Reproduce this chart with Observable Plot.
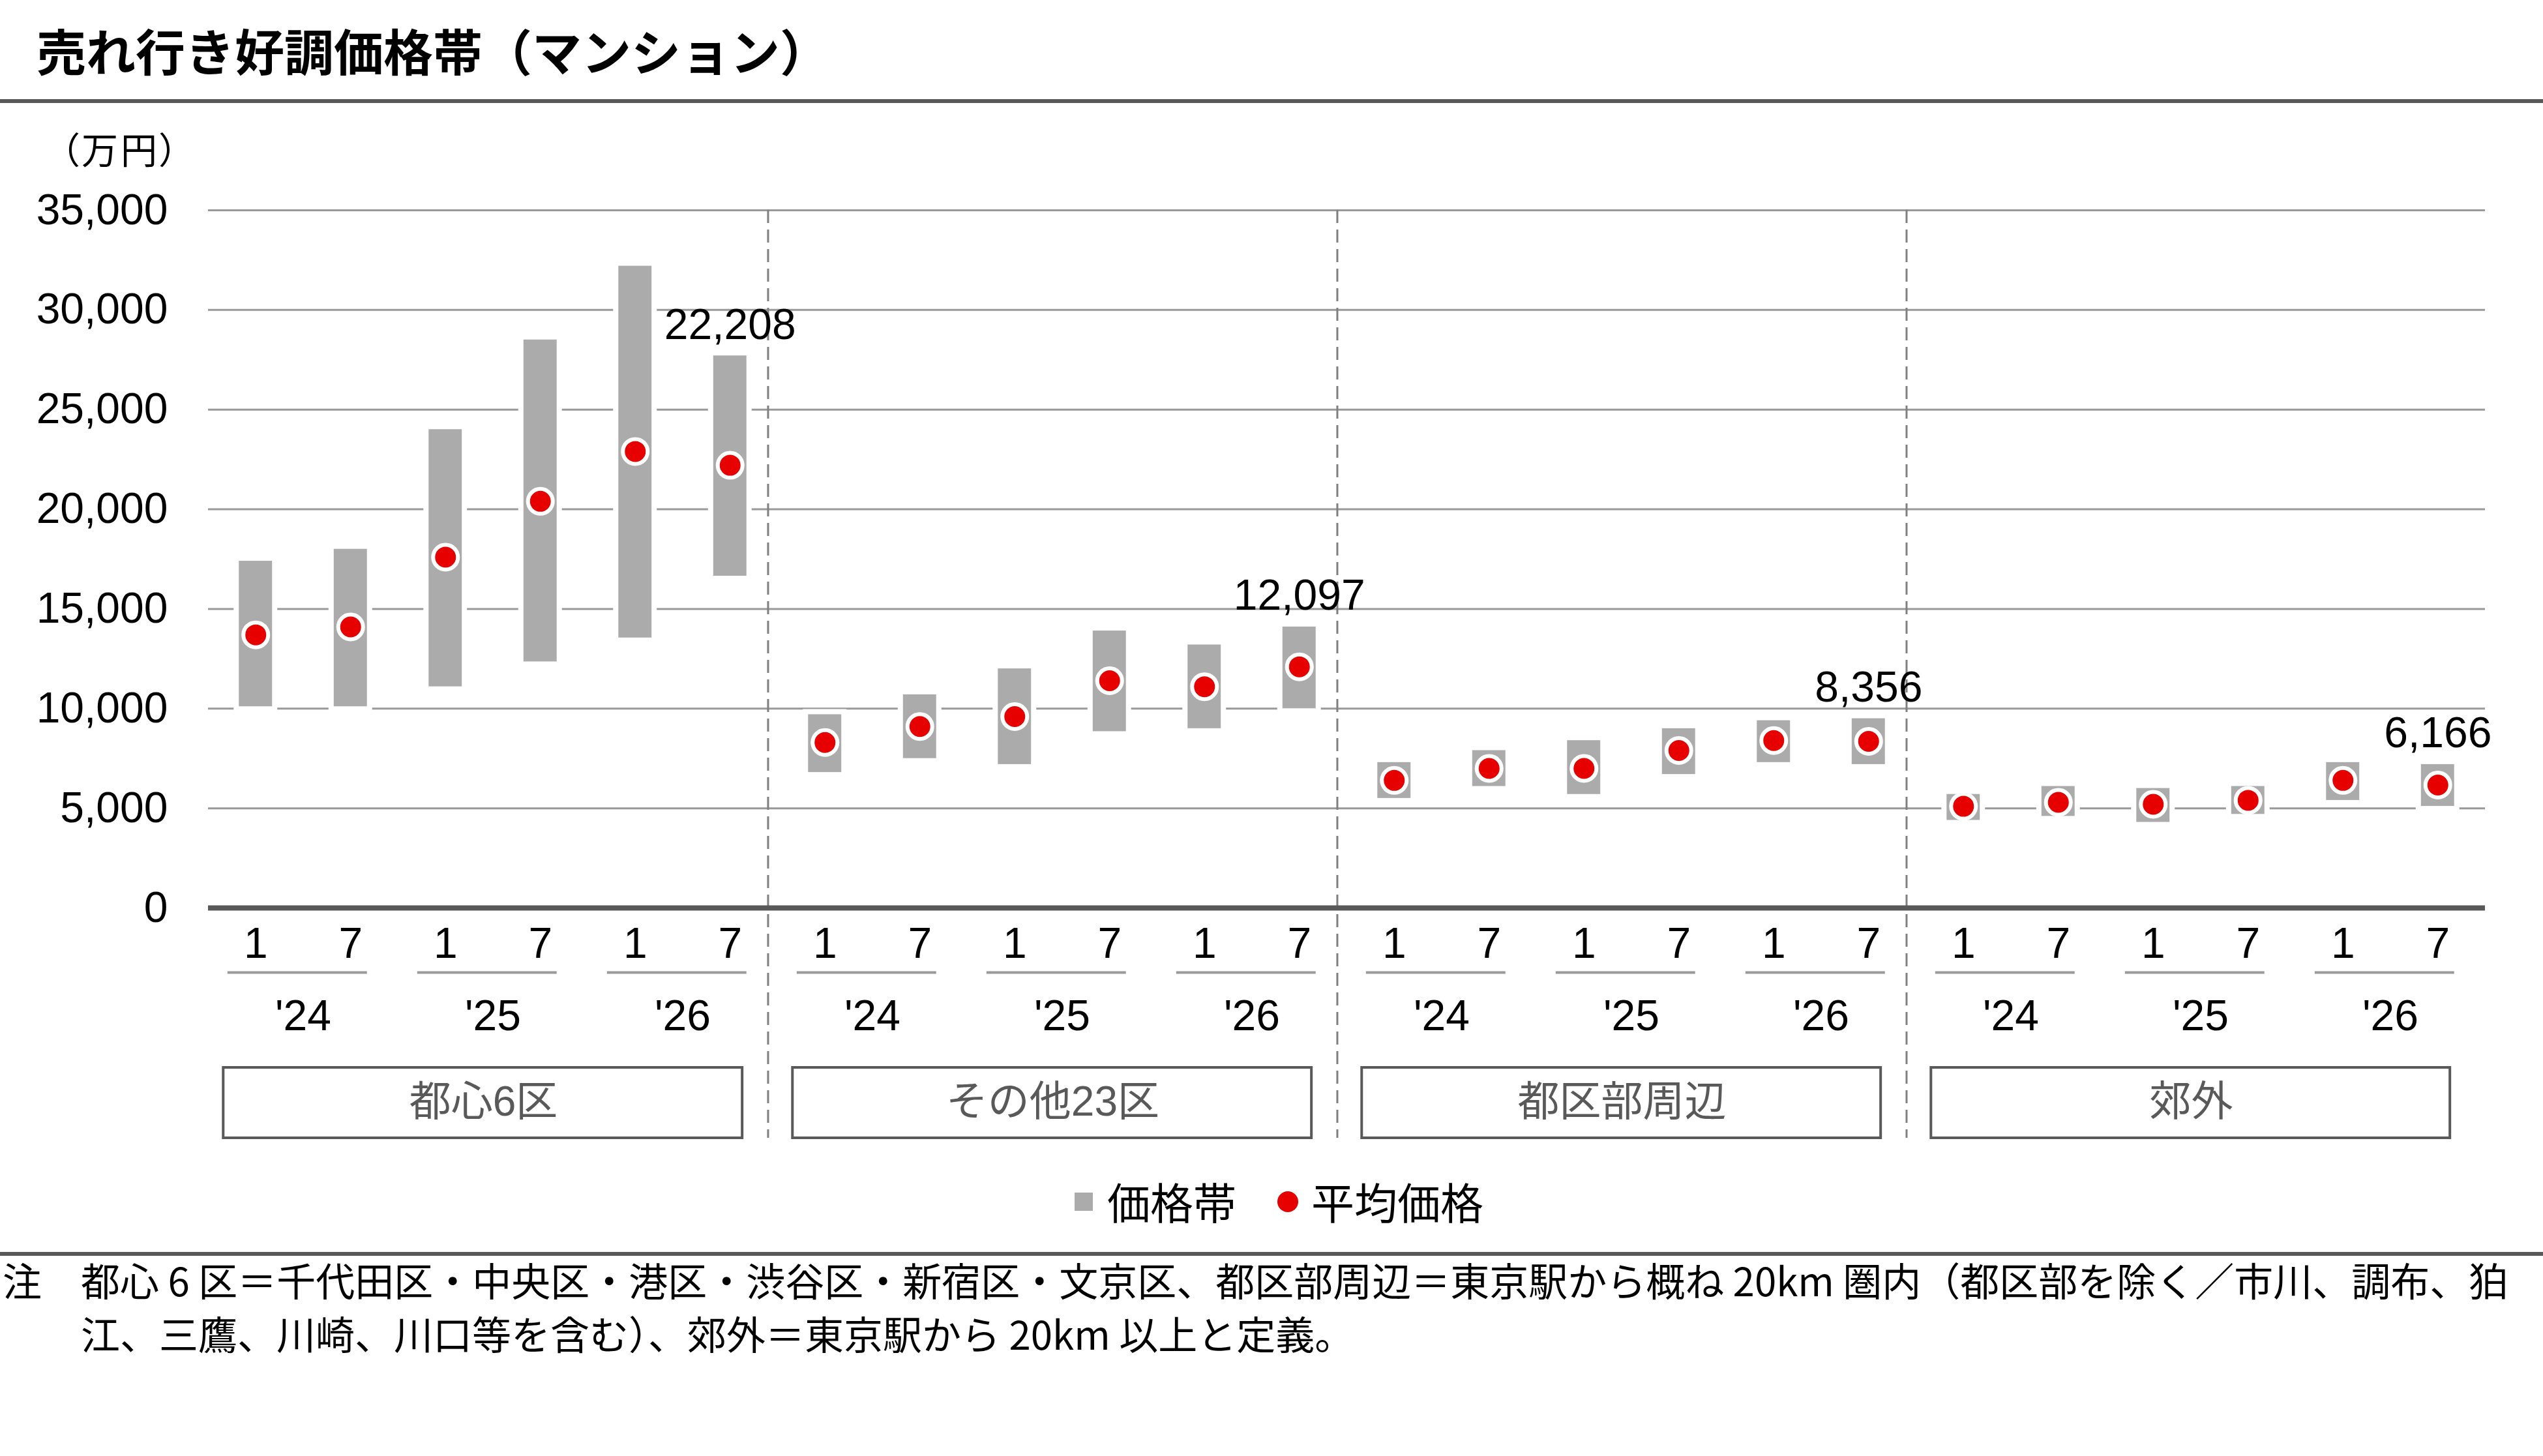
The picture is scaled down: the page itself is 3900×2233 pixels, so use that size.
<!DOCTYPE html>
<html lang="ja">
<head>
<meta charset="utf-8">
<script src="https://cdn.jsdelivr.net/npm/d3@7"></script>
<script src="https://cdn.jsdelivr.net/npm/@observablehq/plot@0.6"></script>
<style>
  html, body { margin: 0; padding: 0; background: #fff; }
  body { width: 3900px; height: 2233px; position: relative; overflow: hidden;
         font-family: "Liberation Sans", "Noto Sans CJK JP", sans-serif; color: #000; }
  .abs { position: absolute; white-space: nowrap; }
  #title { left: 56px; top: 36px; font-size: 76px; line-height: 80px; font-weight: 700;
           font-family: "Noto Sans CJK JP", sans-serif; }
  #rule1 { left: 0; top: 152px; width: 3900px; height: 6px; background: #595959; }
  #unit { left: 93px; top: 197px; font-size: 56px; line-height: 60px; letter-spacing: 4px;
          font-family: "Noto Sans CJK JP", sans-serif; font-feature-settings: "palt"; }
  #chart { left: 0; top: 160px; }
  .legend-text { font-size: 66px; line-height: 70px; font-family: "Noto Sans CJK JP", sans-serif; top: 1806px; }
  #rule2 { left: 0; top: 1920px; width: 3900px; height: 6px; background: #595959; }
  .note { font-size: 60px; line-height: 64px; font-family: "Noto Sans CJK JP", sans-serif; }
</style>
</head>
<body>
<div id="title" class="abs">売れ行き好調価格帯（マンション）</div>
<div id="rule1" class="abs"></div>
<div id="unit" class="abs">（万円）</div>
<div id="chart" class="abs"></div>
<div id="legend"></div>
<div id="rule2" class="abs"></div>
<div class="abs note" style="left:4px; top:1930px;">注</div>
<div class="abs note" style="left:124px; top:1930px;">都心 6 区＝千代田区・中央区・港区・渋谷区・新宿区・文京区、都区部周辺＝東京駅から概ね 20km 圏内（都区部を除く／市川、調布、狛</div>
<div class="abs note" style="left:124px; top:2012px;">江、三鷹、川崎、川口等を含む）、郊外＝東京駅から 20km 以上と定義。</div>
<script>
// ---- data ----
const regions = ["都心6区", "その他23区", "都区部周辺", "郊外"];
const years = ["'24", "'25", "'26"];
const months = ["1", "7"];
const yTicks = [0, 5000, 10000, 15000, 20000, 25000, 30000, 35000];
const seriesNames = ["価格帯", "平均価格"];
// price band low / high and average (万円), in order region → year → month
const low = [
  10100, 10100, 11100, 12350, 13550, 16650,
  6800, 7500, 7200, 8850, 9000, 10000,
  5500, 6100, 5700, 6700, 7300, 7200,
  4400, 4600, 4300, 4700, 5400, 5100
];
const high = [
  17400, 18000, 24000, 28500, 32200, 27700,
  9700, 10700, 12000, 13900, 13200, 14100,
  7300, 7900, 8400, 9000, 9400, 9500,
  5700, 6100, 6000, 6100, 7300, 7200
];
const avg = [
  13700, 14100, 17600, 20400, 22900, 22208,
  8300, 9100, 9600, 11400, 11100, 12097,
  6400, 7000, 7000, 7900, 8400, 8356,
  5100, 5300, 5200, 5400, 6400, 6166
];

// ---- build table ----
const rows = [];
let idx = 0;
regions.forEach((region, ri) => years.forEach((year, yi) => months.forEach((month, mi) => {
  rows.push({i: idx, region, year, month, low: low[idx], high: high[idx], avg: avg[idx],
             last: yi === years.length - 1 && mi === months.length - 1});
  idx++;
})));
const per = years.length * months.length;
const pairs = rows.filter(d => d.month === months[0]);
const groups = regions.map((region, k) => ({region, start: k * per, end: k * per + per - 1}));
const seps = groups.slice(1).map(g => ({x: g.start - 0.6}));
const labelRows = rows.filter(d => d.last);
const fmt = d3.format(",");
const half = 0.175;

const zero = () => 0;
const chart = Plot.plot({
  width: 3900,
  height: 1620,
  marginLeft: 319,
  marginRight: 89,
  marginTop: 162,
  marginBottom: 388,
  x: {type: "linear", domain: [-0.5, rows.length - 0.5], axis: null},
  y: {domain: [0, 35000], axis: null},
  style: {fontFamily: "'Liberation Sans','Noto Sans CJK JP',sans-serif", background: "transparent", color: "#000"},
  marks: [
    Plot.gridY(yTicks.slice(1), {stroke: "#999", strokeOpacity: 1, strokeWidth: 3}),
    Plot.axisY(yTicks, {tickSize: 0, tickPadding: 62, fontSize: 66, tickFormat: fmt, fill: "#000", label: null}),
    Plot.rect(rows, {x1: d => d.i - half, x2: d => d.i + half, y1: "low", y2: "high", fill: "white", inset: -8}),
    Plot.rect(rows, {x1: d => d.i - half, x2: d => d.i + half, y1: "low", y2: "high", fill: "#ABABAB"}),
    Plot.ruleX(seps, {x: "x", stroke: "#808080", strokeWidth: 3, strokeDasharray: "20,10", insetBottom: -353}),
    Plot.ruleY([0], {stroke: "#595959", strokeWidth: 8}),
    Plot.dot(rows, {x: "i", y: "avg", r: 19, fill: "#E60000", stroke: "white", strokeWidth: 6}),
    Plot.text(labelRows, {x: "i", y: "high", text: d => fmt(d.avg), dy: -26, lineAnchor: "bottom", fontSize: 66, fill: "#000"}),
    Plot.text(rows, {x: "i", y: zero, text: "month", dy: 55, fontSize: 66, fill: "#000"}),
    Plot.ruleY(pairs, {x1: d => d.i - 0.295, x2: d => d.i + 1.175, y: zero, dy: 99, stroke: "#999", strokeWidth: 4}),
    Plot.text(pairs, {x: d => d.i + 0.5, y: zero, text: "year", dy: 166, fontSize: 66, fill: "#000"}),
    Plot.rect(groups, {x1: d => d.start - 0.34, x2: d => d.end + 0.13, insetTop: 1315, insetBottom: -353,
                       fill: "white", stroke: "#595959", strokeWidth: 4}),
    Plot.text(groups, {x: d => (d.start + d.end) / 2 - 0.1, y: zero, text: "region", dy: 298, fontSize: 64, fill: "#595959"})
  ]
});
document.getElementById("chart").appendChild(chart);

// ---- legend ----
const lg = document.getElementById("legend");
lg.innerHTML =
  `<div class="abs" style="left:1648px; top:1829px; width:28px; height:28px; background:#ABABAB;"></div>` +
  `<div class="abs legend-text" style="left:1698px;">${seriesNames[0]}</div>` +
  `<div class="abs" style="left:1959px; top:1827px; width:32px; height:32px; border-radius:50%; background:#E60000;"></div>` +
  `<div class="abs legend-text" style="left:2011px;">${seriesNames[1]}</div>`;
</script>
</body>
</html>
